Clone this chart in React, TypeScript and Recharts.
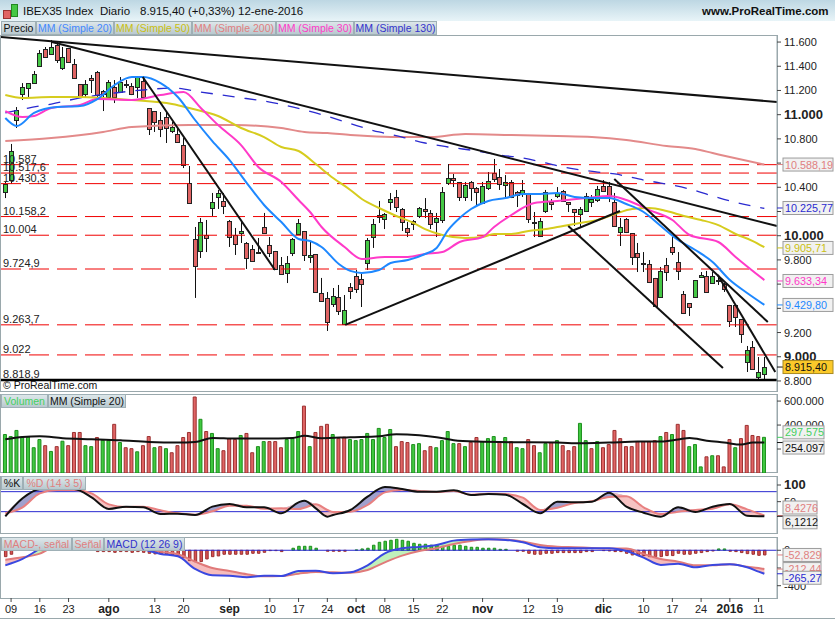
import React from "react";
import { ComposedChart, Bar, Line, Area, Cell, XAxis, YAxis, ReferenceLine, ReferenceDot } from "recharts";

const FONT = "'Liberation Sans', Arial, sans-serif";

const opens = [10361,10460,10956,11171,11220,11261,11402,11542,11501,11575,11385,11551,11418,11253,11171,11303,11352,11195,11146,11228,11187,11253,11237,11228,11278,11055,11030,10956,10981,10865,10840,10749,10435,9973,9874,10006,10229,10320,10287,10122,10006,10022,9940,9890,9865,10072,9923,9874,9758,9692,9857,10014,10039,9824,9849,9527,9486,9436,9494,9271,9576,9667,9642,9775,9989,10171,10138,10278,10320,10221,10064,10122,10163,10221,10188,10113,10130,10435,10477,10444,10320,10444,10394,10270,10394,10518,10485,10419,10444,10361,10345,10353,10113,9998,10204,10278,10328,10369,10278,10221,10179,10204,10278,10295,10411,10411,10278,10031,10138,10022,9857,9775,9767,9651,9494,9758,9907,9783,9519,9444,9494,9659,9667,9609,9634,9601,9428,9428,9312,8957,9081,8833,8858];
const highs = [10444,10758,11063,11261,11261,11361,11534,11559,11617,11600,11559,11551,11460,11253,11286,11328,11361,11204,11286,11286,11311,11286,11261,11319,11311,11055,11030,11022,11022,10939,10890,10807,10576,10072,10146,10130,10353,10378,10353,10130,10064,10130,9948,9923,9981,10188,9989,9874,9824,9832,9981,10138,10039,9948,9849,9651,9535,9568,9593,9510,9609,9717,9684,9981,10138,10287,10188,10353,10378,10229,10113,10130,10237,10311,10212,10188,10402,10592,10510,10444,10444,10452,10402,10444,10526,10634,10551,10501,10460,10369,10460,10353,10196,10146,10378,10303,10402,10378,10278,10221,10237,10353,10336,10411,10460,10444,10353,10146,10146,10022,9940,9865,9799,9651,9742,9816,9989,9865,9543,9444,9634,9700,9709,9700,9676,9609,9428,9428,9312,9089,9130,8998,8998];
const lows = [10311,10427,10890,11121,11146,11261,11394,11476,11493,11427,11369,11427,11303,11138,11146,11179,11146,11030,11138,11096,11179,11220,11162,11138,11138,10832,10857,10815,10766,10848,10766,10559,10270,9486,9816,9865,10163,10221,10179,9907,9841,9940,9725,9783,9849,10022,9824,9717,9684,9609,9832,10006,9791,9775,9527,9453,9213,9411,9345,9263,9477,9527,9411,9717,9899,10105,10055,10212,10196,10039,9989,10047,10146,10146,10055,9989,10105,10419,10402,10287,10287,10287,10245,10262,10378,10444,10378,10311,10311,10237,10320,10105,9989,9989,10188,10212,10311,10287,10196,10080,10072,10196,10237,10278,10361,10278,10072,9915,10022,9758,9700,9700,9609,9411,9486,9626,9841,9634,9353,9337,9486,9651,9527,9601,9593,9535,9246,9246,9114,8874,8891,8816,8816];
const closes = [10427,10700,11038,11228,11261,11336,11509,11476,11559,11451,11476,11435,11303,11154,11253,11286,11162,11171,11270,11146,11270,11245,11171,11311,11146,10881,10939,10881,10890,10898,10774,10584,10270,9750,10113,9981,10278,10353,10245,9989,9932,10039,9816,9791,9857,10022,9857,9725,9684,9775,9973,10105,9841,9841,9535,9461,9287,9502,9378,9386,9543,9560,9601,9965,10097,10155,10179,10303,10237,10113,10031,10097,10229,10204,10097,10146,10361,10477,10460,10320,10419,10394,10361,10411,10452,10468,10427,10444,10320,10336,10378,10138,10105,10122,10361,10262,10353,10287,10262,10196,10221,10328,10303,10386,10369,10328,10080,10072,10031,9824,9824,9767,9618,9419,9709,9700,9865,9709,9362,9411,9634,9676,9535,9667,9626,9560,9295,9329,9188,9056,8899,8874,8915];

const ma20Idx = [0,2,5,9,13,16,19,22,24,27,30,33,36,39,42,45,48,51,53,55,58,60,62,65,67,70,73,75,77,79,81,84,87,90,93,96,99,102,105,108,111,114,117,120,123,126,129,132];
const ma20 = [10972,10906,11014,11063,11071,11129,11245,11311,11311,11261,11146,10956,10782,10625,10435,10254,10113,9973,9956,9907,9766,9709,9692,9717,9775,9799,9849,9899,10047,10146,10221,10287,10311,10345,10345,10353,10320,10311,10311,10262,10196,10080,9965,9882,9783,9634,9527,9429];
const ma50Idx = [0,3,8,13,17,22,29,32,37,41,45,48,51,54,57,60,62,65,68,71,73,76,80,83,85,88,91,94,97,100,103,106,109,112,115,118,121,124,127,130,132];
const ma50 = [11162,11138,11146,11146,11138,11121,11088,11055,10989,10890,10815,10733,10700,10592,10477,10378,10303,10229,10163,10105,10055,10006,9981,9989,10014,10014,10039,10055,10080,10105,10130,10179,10221,10229,10204,10163,10130,10088,10014,9956,9905];
const ma200Idx = [0,8,17,22,32,40,48,52,56,60,63,68,74,80,88,96,102,108,115,120,123,126,132];
const ma200 = [10782,10807,10857,10898,10914,10914,10890,10857,10848,10832,10823,10815,10815,10840,10832,10823,10815,10791,10741,10716,10683,10650,10588];
const ma30Idx = [0,3,5,8,13,16,22,27,31,34,37,41,44,48,51,53,55,59,62,66,70,73,76,79,83,85,88,92,96,101,105,108,112,116,119,124,127,132];
const ma30 = [11030,10981,10989,11055,11080,11129,11121,11162,11187,11055,10914,10749,10568,10444,10295,10196,10072,9907,9808,9824,9824,9849,9865,9948,9989,10072,10171,10270,10287,10311,10328,10295,10212,10130,10006,9948,9824,9633];
const ma130Idx = [0,4,8,13,19,24,29,34,40,46,54,65,69,73,77,82,86,90,94,97,103,106,111,114,119,123,126,132];
const ma130 = [11014,11055,11088,11138,11179,11204,11220,11187,11146,11104,11014,10857,10815,10766,10733,10700,10667,10642,10601,10568,10526,10510,10460,10435,10386,10328,10287,10225];

const levelValues = [10587,10517.6,10430.3,10158.2,10004,9724.9,9263.7,9015];
const levelLabels = ["10.587","10.517,6","10.430,3","10.158,2","10.004","9.724,9","9.263,7","9.022"];

// trend lines: [fromIndex, fromPrice, toIndex, toPrice]
const trendLines = [
  [-0.75,11641,134.2,11105],
  [8.1,11600,134.2,10080],
  [23.9,11311,46.9,9717],
  [59.1,9263,106.9,10204],
  [97.9,10080,124.8,8907],
  [105.9,10468,132.6,9287],
  [123.9,9676,133.9,8874],
];

const priceTicks = [11600,11400,11200,11000,10800,10600,10400,10200,10000,9800,9600,9400,9200,9000,8800];
const boldPrices = [11000,10000,9000];
// these tick labels sit fully behind a value box in the picture
const hiddenTickLabels = [10600,10200,9600,9400,200000,-200];

const volumes = [321,304,355,301,301,211,279,228,180,220,265,228,338,338,228,220,296,273,270,406,254,211,203,177,228,304,211,220,203,169,228,296,338,634,448,346,330,203,186,287,279,313,330,169,220,262,262,262,211,279,287,346,558,220,338,389,406,321,287,299,279,270,279,330,279,372,296,363,220,262,254,237,245,186,220,211,270,346,245,245,220,256,296,262,287,304,262,296,262,211,203,279,228,169,245,254,270,228,186,220,414,270,203,262,211,237,355,287,220,220,262,262,262,270,304,338,321,406,355,220,237,51,135,144,144,51,279,211,287,397,313,304,297.575];
const volumeColors = "GGGGGGGRGRGRRRGGRGGRGRRGRRGRGRRRRRGRGGRRRGRRGGRRRGGGRGRRRGRRGGGGGGGGRRRGGRRGGGGRGRRGGGRGRGGRRGGRGRRRGGRGRRRRRRRRRRGRGRRGGGRGRRRGRRRRG";
const volumeMaIdx = [0,3,6,10,15,20,25,30,33,36,40,45,50,52,55,60,65,68,72,75,78,82,90,96,100,105,110,114,117,119,122,125,128,130,132];
const volumeMa = [282,301,307,290,282,273,259,254,259,293,287,287,293,310,290,299,307,324,315,299,273,262,256,254,248,254,262,262,279,293,270,254,237,254,254.097];

const stochIdx = [0,3,6,9,12,15,18,21,24,27,30,33,36,39,42,45,48,51,52,54,56,57,60,63,66,69,72,75,78,81,84,87,90,93,96,99,102,105,108,111,114,117,120,123,126,129,132];
const stochK = [6,60,88,90,88,63,28,35,33,13,14,10,35,43,33,33,15,48,53,30,5,10,25,65,94,88,80,80,84,70,73,71,43,15,50,48,50,77,35,17,5,33,19,35,43,8,6.12];
const stochD = [15,33,75,85,85,75,42,34,35,24,15,11,21,38,38,29,30,28,32,42,25,19,20,40,78,86,82,79,82,71,74,73,62,25,32,46,51,64,66,33,13,20,25,29,42,27,8.43];

const macdIdx = [0,3,6,9,12,15,18,21,24,27,30,33,36,39,42,45,48,51,54,57,60,63,66,69,72,75,78,81,84,87,90,93,96,99,102,105,108,111,114,117,120,123,126,129,131,132];
const macdLine = [-170,-98,15,106,98,68,49,30,8,-41,-68,-211,-283,-287,-305,-287,-290,-234,-230,-260,-249,-170,-34,23,38,60,109,121,124,117,90,34,23,23,23,23,-8,-83,-166,-151,-192,-166,-158,-192,-241,-265.27];
const macdSignal = [-106,-79,-38,60,90,98,75,53,30,-15,-45,-128,-200,-234,-271,-294,-290,-264,-245,-249,-253,-222,-136,-60,-8,23,72,106,124,121,98,60,41,34,26,19,19,-41,-98,-128,-170,-170,-158,-185,-200,-212.44];
const macdHist = [-72,-45,12,25,35,45,50,45,40,30,20,10,5,3,2,1,-15,-15,-15,-23,-15,-15,-23,-15,-23,-34,-41,-41,-41,-53,-64,-83,-117,-128,-128,-98,-72,-64,-45,-45,-45,-45,-45,-34,-34,-23,-4,-4,-15,0,23,45,45,45,23,0,-11,-11,-11,-11,0,4,15,23,57,90,102,113,124,113,102,79,68,68,57,57,45,45,57,57,45,34,34,23,23,23,11,11,0,-11,-11,-34,-45,-45,-34,-34,-26,-26,-26,-26,-26,-15,-15,0,-4,-8,-15,-15,-34,-53,-60,-60,-72,-72,-72,-60,-60,-34,-45,-45,-34,-26,-15,-8,15,15,-11,-15,-26,-38,-45,-57,-52.829];

const dateTickIdx = [1,6,11,18,26,31,39,46,51,56,61,66,71,76,83,91,96,104,111,116,121,126,131];
const dateTickLabels = ["09","16","23","ago","13","20","sep","10","17","24","oct","08","15","22","nov","12","19","dic","10","17","24","2016","11"];
const boldDateLabels = ["ago","sep","oct","nov","dic","2016"];

const candles = opens.map((open, i) => ({ i, open, high: highs[i], low: lows[i], close: closes[i] }));
const volumeRows = volumes.map((v, i) => ({ i, v: v * 1000 }));
const histRows = macdHist.map((h, i) => ({ i, h }));
const series = (idx: number[], vals: number[]) => idx.map((i, n) => ({ i, v: vals[n] }));
const stochRows = stochIdx.map((i, n) => ({ i, k: stochK[n], d: stochD[n] }));
const macdRows = macdIdx.map((i, n) => ({ i, m: macdLine[n], s: macdSignal[n] }));

const X_DOMAIN: [number, number] = [-0.75, 134.2];
const RIGHT_EDGE = 134.2;
const W = 835;
const GRAY = "#9aa8ac";
const PRICE_DOMAIN: [number, number] = [8717, 11650];
const VOLUME_DOMAIN: [number, number] = [0, 650700];
const STOCH_DOMAIN: [number, number] = [-44, 127];
const MACD_DOMAIN: [number, number] = [-539, 150];

const Candle = (props: any) => {
  const { x, y, width, height, payload } = props;
  const { open, high, low, close } = payload;
  const at = (v: number) => y + ((high - v) / (high - low)) * height;
  const cx = Math.round(x + width / 2) + 0.5;
  const top = Math.round(at(Math.max(open, close))) + 0.5;
  const bottom = Math.round(at(Math.min(open, close))) + 0.5;
  const up = close >= open;
  return (
    <g>
      <line x1={cx} x2={cx} y1={y} y2={y + height} stroke="#111" />
      <rect x={cx - 2} y={top} width={4} height={Math.max(bottom - top, 1)} fill={up ? "#45c845" : "#e06464"} stroke="#222" />
    </g>
  );
};

const ValueBox = (props: any) => {
  const { cx, cy, text, color, dy = 0, boxWidth = 50, boxFill = "#f1f1f1", boxBorder = "#9c9c9c" } = props;
  const boxX = cx + 6;
  const boxY = cy + dy;
  return (
    <g>
      <line x1={cx} x2={cx + 6} y1={cy} y2={cy} stroke={color} />
      <rect x={boxX} y={boxY - 6.5} width={boxWidth} height={13} fill={boxFill} stroke={boxBorder} />
      <text x={boxX + 2} y={boxY + 4} fontFamily={FONT} fontSize={10.8} fill={color}>{text}</text>
    </g>
  );
};

const AxisTick = (props: any) => {
  const { x, y, payload, bold } = props;
  if (hiddenTickLabels.includes(payload.value)) return null;
  return (
    <text x={x} y={y + 4} fontFamily={FONT} fontSize={bold ? 13 : 11} fontWeight={bold ? 700 : 400} fill="#222">
      {payload.value.toLocaleString("de-DE")}
    </text>
  );
};

const DateTick = (props: any) => {
  const { x, y, payload } = props;
  const label = dateTickLabels[dateTickIdx.indexOf(payload.value)];
  const bold = boldDateLabels.includes(label);
  return (
    <text x={x} y={y + 9} textAnchor="middle" fontFamily={FONT} fontSize={bold ? 12 : 11} fontWeight={bold ? 700 : 400} fill="#222">
      {label}
    </text>
  );
};

const Tab = ({ x, y, w, color, children }: any) => (
  <div style={{
    position: "absolute", left: x, top: y, width: w, height: 14, boxSizing: "border-box",
    background: "linear-gradient(#dde7ea,#b9c9cf)", border: "1px solid #9fb0b6", color,
    fontFamily: FONT, fontSize: 10.5, lineHeight: "12px", textAlign: "center", whiteSpace: "nowrap",
  }}>{children}</div>
);

const Txt = ({ x, y, size = 11.5, bold, children }: any) => (
  <div style={{
    position: "absolute", left: x, top: y, fontFamily: FONT, fontSize: size, fontWeight: bold ? 700 : 400,
    color: "#111", whiteSpace: "nowrap", lineHeight: "14px",
  }}>{children}</div>
);

const Panel = ({ top, height }: any) => (
  <div style={{ position: "absolute", left: 0, top, width: 778, height, boxSizing: "border-box", border: `1px solid ${GRAY}` }} />
);

const chartStyle = (top: number): React.CSSProperties => ({ position: "absolute", left: 0, top });
const margin = { top: 0, right: 1, bottom: 0, left: 1 };
const axisLine = { stroke: GRAY };
const tickLine = { stroke: "#444" };

// same scales as the panel below it, so the value boxes cover the axis labels
const BoxLayer = ({ top, height, domain, bottom = 0, children }: any) => (
  <ComposedChart width={W} height={height} data={candles} margin={{ top: 0, right: 58, bottom, left: 1 }} style={chartStyle(top)}>
    <XAxis type="number" dataKey="i" domain={X_DOMAIN} allowDataOverflow hide />
    <YAxis domain={domain} allowDataOverflow hide />
    {children}
  </ComposedChart>
);

export default function App() {
  return (
    <div style={{ position: "absolute", left: 0, top: 0, width: W, height: 620, background: "#fff", overflow: "hidden" }}>
      <div style={{ position: "absolute", left: 0, top: 0, width: W, height: 21, background: "linear-gradient(#bdd7e3,#e8f4f8)" }} />
      <div style={{ position: "absolute", left: 3, top: 10, width: 6, height: 7, background: "#e06464", border: "1px solid #933" }} />
      <div style={{ position: "absolute", left: 11, top: 4, width: 5, height: 11, background: "#45c845", border: "1px solid #282" }} />
      <Txt x={23} y={4}>IBEX35 Index</Txt>
      <Txt x={100} y={4}>Diario</Txt>
      <Txt x={140} y={4}>8.915,40 (+0,33%)</Txt>
      <Txt x={238} y={4}>12-ene-2016</Txt>
      <Txt x={702} y={4} size={11.5} bold>www.ProRealTime.com</Txt>

      <Panel top={35} height={357} />
      <Panel top={394} height={79} />
      <Panel top={476} height={58} />
      <Panel top={537} height={62} />
      <div style={{ position: "absolute", left: 0, top: 618, width: W, height: 1, background: GRAY }} />

      <ComposedChart width={W} height={355} data={candles} margin={margin} style={chartStyle(36)}>
        <XAxis type="number" dataKey="i" domain={X_DOMAIN} allowDataOverflow hide />
        <YAxis orientation="right" width={57} domain={PRICE_DOMAIN} allowDataOverflow ticks={priceTicks} interval={0} tick={(p: any) => <AxisTick {...p} bold={boldPrices.includes(p.payload.value)} />} tickSize={4} tickMargin={3} axisLine={axisLine} tickLine={tickLine} />
        <Bar dataKey={(d: any) => [d.low, d.high]} barSize={5} shape={<Candle />} isAnimationActive={false} />
        {levelValues.map((v, n) => (
          <ReferenceLine key={v} y={v} stroke="#f00000" strokeDasharray="20 8" label={{ value: levelLabels[n], position: "insideBottomLeft", offset: 2, fontSize: 11, fontFamily: FONT, fill: "#222" }} />
        ))}
        <ReferenceLine y={8808} stroke="#000" strokeWidth={2.5} label={{ value: "8.818,9", position: "insideBottomLeft", offset: 2, fontSize: 11, fontFamily: FONT, fill: "#222" }} />
        <Line data={series(ma200Idx, ma200)} dataKey="v" type="monotone" stroke="#e38a8a" strokeWidth={2} dot={false} isAnimationActive={false} />
        <Line data={series(ma130Idx, ma130)} dataKey="v" type="monotone" stroke="#2a2ad0" strokeWidth={1.3} strokeDasharray="12 10" dot={false} isAnimationActive={false} />
        <Line data={series(ma50Idx, ma50)} dataKey="v" type="monotone" stroke="#d6cc1e" strokeWidth={2} dot={false} isAnimationActive={false} />
        <Line data={series(ma30Idx, ma30)} dataKey="v" type="monotone" stroke="#ff3ac8" strokeWidth={2} dot={false} isAnimationActive={false} />
        <Line data={series(ma20Idx, ma20)} dataKey="v" type="monotone" stroke="#1e88ff" strokeWidth={2} dot={false} isAnimationActive={false} />
        {trendLines.map((t, n) => (
          <ReferenceLine key={n} segment={[{ x: t[0], y: t[1] }, { x: t[2], y: t[3] }]} stroke="#111" strokeWidth={2} />
        ))}
      </ComposedChart>
      <BoxLayer top={36} height={355} domain={PRICE_DOMAIN}>
        <ReferenceDot x={RIGHT_EDGE} y={10588} ifOverflow="visible" shape={<ValueBox text="10.588,19" color="#e07f7f" />} />
        <ReferenceDot x={RIGHT_EDGE} y={10229} ifOverflow="visible" shape={<ValueBox text="10.225,77" color="#2a2ad0" />} />
        <ReferenceDot x={RIGHT_EDGE} y={9899} ifOverflow="visible" shape={<ValueBox text="9.905,71" color="#c9bf10" />} />
        <ReferenceDot x={RIGHT_EDGE} y={9626} ifOverflow="visible" shape={<ValueBox text="9.633,34" color="#ff3ac8" />} />
        <ReferenceDot x={RIGHT_EDGE} y={9428} ifOverflow="visible" shape={<ValueBox text="9.429,80" color="#1e88ff" />} />
        <ReferenceDot x={RIGHT_EDGE} y={8915} ifOverflow="visible" shape={<ValueBox text="8.915,40" color="#111" boxFill="#fbc92a" boxBorder="#a98a20" />} />
      </BoxLayer>

      <ComposedChart width={W} height={78} data={volumeRows} margin={margin} style={chartStyle(395)}>
        <XAxis type="number" dataKey="i" domain={X_DOMAIN} allowDataOverflow hide />
        <YAxis orientation="right" width={57} domain={VOLUME_DOMAIN} allowDataOverflow ticks={[600000, 400000, 200000]} interval={0} tick={<AxisTick />} tickSize={4} tickMargin={3} axisLine={axisLine} tickLine={tickLine} />
        <Bar dataKey="v" barSize={3} isAnimationActive={false}>
          {volumeRows.map((r) => (
            <Cell key={r.i} fill={volumeColors[r.i] === "G" ? "#40c840" : "#e06464"} stroke={volumeColors[r.i] === "G" ? "#1c8f1c" : "#9c3030"} />
          ))}
        </Bar>
        <Line data={series(volumeMaIdx, volumeMa.map((v) => v * 1000))} dataKey="v" type="monotone" stroke="#111" strokeWidth={2} dot={false} isAnimationActive={false} />
      </ComposedChart>
      <BoxLayer top={395} height={78} domain={VOLUME_DOMAIN}>
        <ReferenceDot x={RIGHT_EDGE} y={297575} ifOverflow="visible" shape={<ValueBox text="297.575" color="#44d060" dy={-5} boxWidth={41} />} />
        <ReferenceDot x={RIGHT_EDGE} y={254097} ifOverflow="visible" shape={<ValueBox text="254.097" color="#111" dy={5} boxWidth={41} />} />
      </BoxLayer>

      <ComposedChart width={W} height={57} data={stochRows} margin={margin} style={chartStyle(476)}>
        <XAxis type="number" dataKey="i" domain={X_DOMAIN} allowDataOverflow hide />
        <YAxis orientation="right" width={57} domain={STOCH_DOMAIN} allowDataOverflow ticks={[100, 50]} interval={0} tick={(p: any) => <AxisTick {...p} bold={p.payload.value === 100} />} tickSize={4} tickMargin={3} axisLine={axisLine} tickLine={tickLine} />
        <Area dataKey={(r: any) => [r.d, Math.max(r.k, r.d)]} type="monotone" fill="#8f8fc4" fillOpacity={0.85} stroke="none" isAnimationActive={false} />
        <Area dataKey={(r: any) => [r.k, Math.max(r.k, r.d)]} type="monotone" fill="#f5bcbc" fillOpacity={0.9} stroke="none" isAnimationActive={false} />
        <ReferenceLine y={80} stroke="#2a2ad0" />
        <ReferenceLine y={20} stroke="#2a2ad0" />
        <Line dataKey="d" type="monotone" stroke="#e88080" strokeWidth={2} dot={false} isAnimationActive={false} />
        <Line dataKey="k" type="monotone" stroke="#111" strokeWidth={2} dot={false} isAnimationActive={false} />
      </ComposedChart>
      <BoxLayer top={476} height={57} domain={STOCH_DOMAIN}>
        <ReferenceDot x={RIGHT_EDGE} y={8.4276} ifOverflow="visible" shape={<ValueBox text="8,4276" color="#e07f7f" dy={-8} boxWidth={34} />} />
        <ReferenceDot x={RIGHT_EDGE} y={6.1212} ifOverflow="visible" shape={<ValueBox text="6,1212" color="#111" dy={6} boxWidth={34} />} />
      </BoxLayer>

      <ComposedChart width={W} height={81} data={histRows} margin={margin} style={chartStyle(537)}>
        <XAxis type="number" dataKey="i" domain={X_DOMAIN} allowDataOverflow ticks={dateTickIdx} interval={0} tick={<DateTick />} tickSize={4} height={20} axisLine={false} tickLine={tickLine} />
        <YAxis orientation="right" width={57} domain={MACD_DOMAIN} allowDataOverflow ticks={[0, -200, -400]} interval={0} tick={<AxisTick />} tickSize={4} tickMargin={3} axisLine={axisLine} tickLine={tickLine} />
        <Bar dataKey="h" barSize={2.5} isAnimationActive={false}>
          {histRows.map((r) => (
            <Cell key={r.i} fill={r.h >= 0 ? "#40c840" : "#d85050"} stroke={r.h >= 0 ? "#1c8f1c" : "#9c3030"} />
          ))}
        </Bar>
        <Area data={macdRows} dataKey={(r: any) => [r.s, Math.max(r.m, r.s)]} type="monotone" fill="#b9f0b4" fillOpacity={0.9} stroke="none" isAnimationActive={false} />
        <Area data={macdRows} dataKey={(r: any) => [r.m, Math.max(r.m, r.s)]} type="monotone" fill="#f5b5b5" fillOpacity={0.9} stroke="none" isAnimationActive={false} />
        <ReferenceLine y={0} stroke="#2a2ad0" />
        <Line data={macdRows} dataKey="s" type="monotone" stroke="#e07a7a" strokeWidth={2} dot={false} isAnimationActive={false} />
        <Line data={macdRows} dataKey="m" type="monotone" stroke="#3a48e0" strokeWidth={2} dot={false} isAnimationActive={false} />
      </ComposedChart>
      <BoxLayer top={537} height={81} bottom={20} domain={MACD_DOMAIN}>
        <ReferenceDot x={RIGHT_EDGE} y={-52.829} ifOverflow="visible" shape={<ValueBox text="-52,829" color="#e07f7f" boxWidth={38} />} />
        <ReferenceDot x={RIGHT_EDGE} y={-212.44} ifOverflow="visible" shape={<ValueBox text="-212,44" color="#e07f7f" boxWidth={38} />} />
        <ReferenceDot x={RIGHT_EDGE} y={-265.27} ifOverflow="visible" shape={<ValueBox text="-265,27" color="#2a2ad0" dy={4} boxWidth={38} />} />
      </BoxLayer>

      <Txt x={3} y={378} size={10.5}>© ProRealTime.com</Txt>

      <Tab x={1} y={21} w={35} color="#111">Precio</Tab>
      <Tab x={36} y={21} w={78} color="#4488ff">MM (Simple 20)</Tab>
      <Tab x={114} y={21} w={78} color="#c9bf10">MM (Simple 50)</Tab>
      <Tab x={192} y={21} w={84} color="#e07f7f">MM (Simple 200)</Tab>
      <Tab x={276} y={21} w={78} color="#ff3ac8">MM (Simple 30)</Tab>
      <Tab x={354} y={21} w={83} color="#3333cc">MM (Simple 130)</Tab>

      <Tab x={1} y={394} w={47} color="#44d060">Volumen</Tab>
      <Tab x={48} y={394} w={78} color="#111">MM (Simple 20)</Tab>

      <Tab x={1} y={476} w={22} color="#111">%K</Tab>
      <Tab x={23} y={476} w={63} color="#e07f7f">%D (14 3 5)</Tab>

      <Tab x={1} y={537} w={71} color="#e07f7f">MACD-, señal</Tab>
      <Tab x={72} y={537} w={32} color="#e07f7f">Señal</Tab>
      <Tab x={104} y={537} w={81} color="#3333cc">MACD (12 26 9)</Tab>
    </div>
  );
}
